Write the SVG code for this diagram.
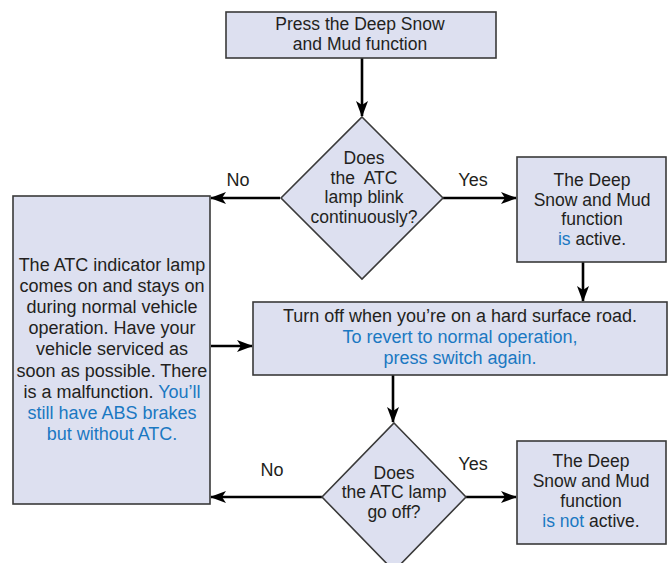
<svg xmlns="http://www.w3.org/2000/svg" width="668" height="563" viewBox="0 0 668 563">
<style>
.box{fill:#dde0f0;stroke:#3a3a3a;stroke-width:1.6}
.t{font-family:"Liberation Sans",Arial,sans-serif;font-size:17.5px;fill:#231f20;text-anchor:middle}
.l{font-size:18px}
.b{fill:#1a78c2}
.c{stroke:#000;stroke-width:2.6;fill:none}
</style>
<defs>
<marker id="ah" viewBox="0 0 16 12" refX="15" refY="6" markerWidth="16" markerHeight="12" markerUnits="userSpaceOnUse" orient="auto">
<path d="M0,0 L16,6 L0,12 L4,6 z" fill="#000"/>
</marker>
</defs>
<rect width="668" height="563" fill="#fff"/>
<g id="connectors">
<path class="c" d="M362,58 V116" marker-end="url(#ah)"/>
<path class="c" d="M443,198 H516" marker-end="url(#ah)"/>
<path class="c" d="M280,198 H211" marker-end="url(#ah)"/>
<path class="c" d="M583,262 V301" marker-end="url(#ah)"/>
<path class="c" d="M211,346 H252" marker-end="url(#ah)"/>
<path class="c" d="M393,375 V422" marker-end="url(#ah)"/>
<path class="c" d="M466,497 H516" marker-end="url(#ah)"/>
<path class="c" d="M322,497 H211" marker-end="url(#ah)"/>
<text class="t l" x="238" y="186">No</text>
<text class="t l" x="473" y="186">Yes</text>
<text class="t l" x="272" y="476">No</text>
<text class="t l" x="473" y="470">Yes</text>
</g>
<g id="start">
<rect class="box" x="226" y="12" width="270" height="46"/>
<text class="t" x="360" y="30">Press the Deep Snow</text>
<text class="t" x="360" y="50">and Mud function</text>
</g>
<g id="decision1">
<polygon class="box" points="362,117 443,198 362,279 281,198"/>
<text class="t" x="364" y="164">Does</text>
<text class="t" x="364" y="183.5" xml:space="preserve">the  ATC</text>
<text class="t" x="364" y="203">lamp blink</text>
<text class="t" x="364" y="222.5">continuously?</text>
</g>
<g id="active">
<rect class="box" x="517" y="157" width="149" height="105"/>
<text class="t" x="592" y="186">The Deep</text>
<text class="t" x="592" y="205.5">Snow and Mud</text>
<text class="t" x="592" y="225">function</text>
<text class="t" x="592" y="244.5"><tspan class="b">is</tspan> active.</text>
</g>
<g id="malfunction">
<rect class="box" x="13" y="196" width="197" height="308"/>
<text class="t l" x="112" y="271">The ATC indicator lamp</text>
<text class="t l" x="112" y="292">comes on and stays on</text>
<text class="t l" x="112" y="313">during normal vehicle</text>
<text class="t l" x="112" y="334">operation. Have your</text>
<text class="t l" x="112" y="355">vehicle serviced as</text>
<text class="t l" x="112" y="377">soon as possible. There</text>
<text class="t l" x="112" y="398">is a malfunction. <tspan class="b">You’ll</tspan></text>
<text class="t l b" x="112" y="419">still have ABS brakes</text>
<text class="t l b" x="112" y="440">but without ATC.</text>
</g>
<g id="turnoff">
<rect class="box" x="253" y="302" width="414" height="73"/>
<text class="t l" x="460" y="322">Turn off when you’re on a hard surface road.</text>
<text class="t l b" x="460" y="343">To revert to normal operation,</text>
<text class="t l b" x="460" y="364">press switch again.</text>
</g>
<g id="decision2">
<polygon class="box" points="394,423 466,497 394,571 322,497"/>
<text class="t" x="394" y="478.5">Does</text>
<text class="t" x="394" y="498">the ATC lamp</text>
<text class="t" x="394" y="517.5">go off?</text>
</g>
<g id="notactive">
<rect class="box" x="517" y="441" width="149" height="103"/>
<text class="t" x="591" y="467">The Deep</text>
<text class="t" x="591" y="487">Snow and Mud</text>
<text class="t" x="591" y="507">function</text>
<text class="t" x="591" y="527"><tspan class="b">is not</tspan> active.</text>
</g>
</svg>
